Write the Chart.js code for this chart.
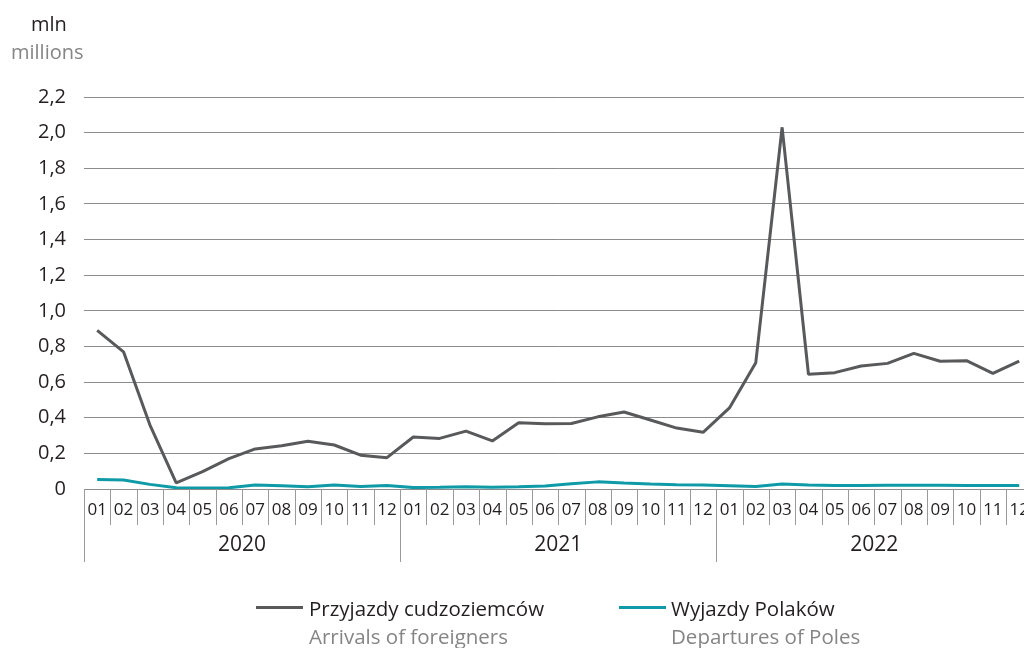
<!DOCTYPE html>
<html><head><meta charset="utf-8">
<script src="https://cdn.jsdelivr.net/npm/chart.js@4"></script>
<style>
html,body{margin:0;padding:0;background:#fff;overflow:hidden;width:1024px;height:648px;}
#wrap{position:relative;width:1024px;height:648px;overflow:hidden;}
canvas{position:absolute;left:0;top:0;}
.t{position:absolute;font-family:"Open Sans",sans-serif;white-space:nowrap;line-height:normal;}
.pl{color:#231f20;font-size:20.5px;}
.en{color:#858585;font-size:20.5px;}
.sw{position:absolute;height:3px;}
</style></head><body>
<div id="wrap">
<canvas id="c" width="1040" height="648" style="width:1040px;height:648px"></canvas>
<div class="t pl" style="left:31px;top:10px;font-size:20px;">mln</div>
<div class="t en" style="left:11px;top:38px;font-size:20px;">millions</div>
<div class="sw" style="left:256px;top:606px;width:47px;background:#58595b;"></div>
<div class="t pl" style="left:309px;top:594px;">Przyjazdy cudzoziemców</div>
<div class="t en" style="left:309px;top:622px;">Arrivals of foreigners</div>
<div class="sw" style="left:619px;top:606px;width:47px;background:#0e9aa7;"></div>
<div class="t pl" style="left:671px;top:594px;">Wyjazdy Polaków</div>
<div class="t en" style="left:671px;top:622px;">Departures of Poles</div>
</div>
<script>
const months = ['01','02','03','04','05','06','07','08','09','10','11','12',
                '01','02','03','04','05','06','07','08','09','10','11','12',
                '01','02','03','04','05','06','07','08','09','10','11','12'];
const years = ['2020','2021','2022'];
const arrivals = [0.89,0.77,0.36,0.035,0.097,0.17,0.225,0.243,0.268,0.247,0.19,0.176,
                  0.292,0.284,0.325,0.27,0.372,0.366,0.368,0.405,0.432,0.387,0.342,0.318,
                  0.455,0.709,2.03,0.644,0.653,0.69,0.705,0.761,0.717,0.72,0.649,0.718];
const departures = [0.054,0.050,0.026,0.007,0.005,0.007,0.022,0.018,0.013,0.022,0.014,0.020,
                    0.008,0.010,0.013,0.010,0.013,0.017,0.030,0.040,0.033,0.028,0.024,0.022,
                    0.018,0.014,0.028,0.022,0.020,0.020,0.021,0.021,0.021,0.020,0.019,0.020];
const yTicks = [0,0.2,0.4,0.6,0.8,1.0,1.2,1.4,1.6,1.8,2.0,2.2];

const sepPlugin = {
  id:'sep',
  afterDraw(chart){
    const xs = chart.scales.x, ctx = chart.ctx;
    const n = months.length;
    const w = (xs.getPixelForValue(1) - xs.getPixelForValue(0));
    const bottom = chart.chartArea.bottom;
    ctx.save();
    ctx.strokeStyle = '#9a9a9a';
    ctx.lineWidth = 1;
    for(let i=0;i<=n;i++){
      const x = Math.round(xs.getPixelForValue(i) - w/2) + 0.5;
      const yEnd = (i % 12 === 0) ? bottom + 73 : bottom + 36;
      ctx.beginPath(); ctx.moveTo(x,bottom); ctx.lineTo(x,yEnd); ctx.stroke();
    }
    ctx.restore();
  }
};

new Chart(document.getElementById('c'), {
  type:'line',
  data:{
    labels: months,
    datasets:[
      {label:'Przyjazdy cudzoziemców', data:arrivals, borderColor:'#58595b', borderWidth:3, borderJoinStyle:'bevel', pointRadius:0, tension:0, xAxisID:'x', order:2},
      {label:'Wyjazdy Polaków', data:departures, borderColor:'#0e9aa7', borderWidth:3, borderJoinStyle:'bevel', pointRadius:0, tension:0, xAxisID:'x', order:1}
    ]
  },
  options:{
    responsive:false, animation:false,
    layout:{padding:{top:97,right:5,left:0,bottom:0}},
    plugins:{legend:{display:false}, tooltip:{enabled:false}},
    scales:{
      x:{
        type:'category', offset:true,
        grid:{display:false, drawTicks:false},
        border:{display:false},
        ticks:{font:{family:'Open Sans', size:17}, color:'#231f20', padding:11, maxRotation:0, autoSkip:false},
        afterFit(s){ s.height = 40; }
      },
      x2:{
        type:'category', position:'bottom', labels: years, offset:true,
        grid:{display:false, drawTicks:false},
        border:{display:false},
        ticks:{font:{family:'Open Sans', size:21}, color:'#231f20', padding:3, maxRotation:0},
        afterFit(s){ s.height = 119; }
      },
      y:{
        min:0, max:2.2,
        afterBuildTicks(s){ s.ticks = yTicks.map(v=>({value:v})); },
        grid:{color:'#8c8c8c', lineWidth:1, drawTicks:false},
        border:{display:false},
        ticks:{font:{family:'Open Sans', size:20}, color:'#231f20', padding:18,
          callback(v){ return v===0 ? '0' : v.toFixed(1).replace('.',','); }},
        afterFit(s){ s.width = 84; }
      }
    }
  },
  plugins:[sepPlugin]
});
</script>
</body></html>
